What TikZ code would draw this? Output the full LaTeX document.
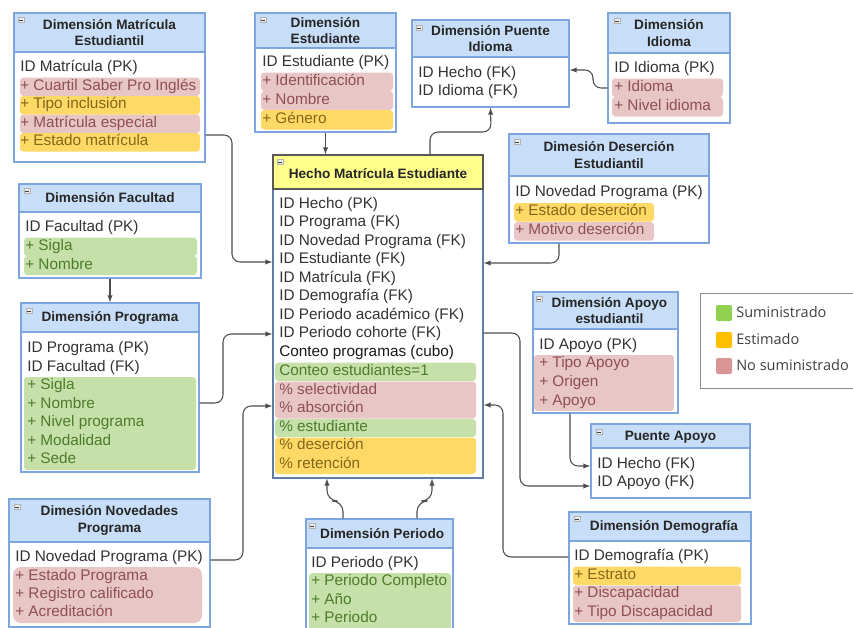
\documentclass[tikz,border=0pt]{standalone}
\usepackage{fontspec}
\setmainfont{Liberation Sans}
\newfontfamily\leyenda{Open Sans}
\usetikzlibrary{fit}

\definecolor{azulcab}{HTML}{C8DDF7}
\definecolor{azulbor}{HTML}{7DA6DF}
\definecolor{amarillo}{HTML}{FFFF8C}
\definecolor{verdeF}{HTML}{C6E0A9}
\definecolor{verdeT}{HTML}{4E7B2C}
\definecolor{verdeL}{HTML}{92D050}
\definecolor{rosaF}{HTML}{E8C6C6}
\definecolor{rosaT}{HTML}{8E5050}
\definecolor{rosaL}{HTML}{DA9694}
\definecolor{naranjaF}{HTML}{FFD966}
\definecolor{naranjaT}{HTML}{86661A}
\definecolor{naranjaL}{HTML}{FFC000}
\definecolor{texto}{HTML}{333333}
\definecolor{linea}{HTML}{4D4D4D}

\tikzset{
  caja/.style={draw=azulbor, line width=1.1pt, fill=white, inner sep=0pt},
  cab/.style={draw=azulbor, line width=1.1pt, fill=azulcab, inner sep=0pt},
  titulo/.style={font=\fontsize{10.2}{12.2}\selectfont\bfseries, align=center, text=black!85},
  fila/.style={anchor=west, inner sep=0pt, text height=8.2pt, text depth=2.4pt, font=\fontsize{11.5}{13}\selectfont, text=texto},
  verde/.style={fila, text=verdeT},
  rosa/.style={fila, text=rosaT},
  naranja/.style={fila, text=naranjaT},
  banda/.style={rounded corners=2.5pt},
  icono/.style={draw=gray!60, fill=gray!15, minimum width=4.6pt, minimum height=3.8pt, inner sep=0pt,
    path picture={\draw[black!75, line width=0.7pt] ([xshift=0.8pt]path picture bounding box.west) -- ([xshift=-0.8pt]path picture bounding box.east);}},
  con/.style={->, >=latex, draw=linea, line width=0.8pt, rounded corners=6pt},
  ley/.style={anchor=west, inner sep=0pt, font=\leyenda\fontsize{10.9}{13}\selectfont, text=black!75},
}

\begin{document}
\begin{tikzpicture}[x=0.75pt, y={(0pt,-0.75pt)}]
\useasboundingbox (0,0) rectangle (853,628);

% Dimension Matricula Estudiantil
\node[caja, fit={(14,13) (205,162)}] (matr) {};
\fill[rosaF, banda] (20,77.5) rectangle (200,96);
\fill[naranjaF, banda] (20,96) rectangle (200,114.5);
\fill[rosaF, banda] (20,114.5) rectangle (200,133);
\fill[naranjaF, banda] (20,133) rectangle (200,151.5);
\node[cab, fit={(14,13) (205,52)}] (matrC) {};
\node[icono] at (21,20) {};
\node[titulo] at (matrC.center) {Dimensión Matrícula\\Estudiantil};
\node[fila] at (20,68) {ID Matrícula (PK)};
\node[rosa] at (20,87) {+ Cuartil Saber Pro Inglés};
\node[naranja] at (20,105) {+ Tipo inclusión};
\node[rosa] at (20,124) {+ Matrícula especial};
\node[naranja] at (20,142) {+ Estado matrícula};

% Dimension Estudiante
\node[caja, fit={(255,13) (396,132)}] (estu) {};
\fill[rosaF, banda] (261,72.5) rectangle (393,91);
\fill[rosaF, banda] (261,91) rectangle (393,110);
\fill[naranjaF, banda] (261,110) rectangle (393,129.5);
\node[cab, fit={(255,13) (396,48)}] (estuC) {};
\node[icono] at (263,20) {};
\node[titulo] at (estuC.center) {Dimensión\\Estudiante};
\node[fila] at (262,63) {ID Estudiante (PK)};
\node[rosa] at (262,82) {+ Identificación};
\node[rosa] at (262,101) {+ Nombre};
\node[naranja] at (262,120) {+ Género};

% Dimension Puente Idioma
\node[caja, fit={(412,20) (569,107)}] (pidi) {};
\node[cab, fit={(412,20) (569,57)}] (pidiC) {};
\node[icono] at (419,28) {};
\node[titulo] at (pidiC.center) {Dimensión Puente\\Idioma};
\node[fila] at (418,74) {ID Hecho (FK)};
\node[fila] at (418,92) {ID Idioma (FK)};

% Dimension Idioma
\node[caja, fit={(608,13) (730,123)}] (idio) {};
\fill[rosaF, banda] (612,78.5) rectangle (723,97);
\fill[rosaF, banda] (612,97) rectangle (723,116.5);
\node[cab, fit={(608,13) (730,53)}] (idioC) {};
\node[icono] at (617,21) {};
\node[titulo] at (idioC.center) {Dimensión\\Idioma};
\node[fila] at (614,69) {ID Idioma (PK)};
\node[rosa] at (614,88) {+ Idioma};
\node[rosa] at (614,107) {+ Nivel idioma};

% Dimension Facultad
\node[caja, fit={(19,184) (201,278)}] (facu) {};
\fill[verdeF, banda] (24,237.5) rectangle (197,256);
\fill[verdeF, banda] (24,256) rectangle (197,275);
\node[cab, fit={(19,184) (201,212)}] (facuC) {};
\node[icono] at (27,191) {};
\node[titulo] at (facuC.center) {Dimensión Facultad};
\node[fila] at (25,228) {ID Facultad (PK)};
\node[verde] at (25,247) {+ Sigla};
\node[verde] at (25,266) {+ Nombre};

% Dimension Programa
\node[caja, fit={(21,303) (199,472)}] (prog) {};
\fill[verdeF, banda] (24,377) rectangle (196,470);
\node[cab, fit={(21,303) (199,332)}] (progC) {};
\node[icono] at (29,311) {};
\node[titulo] at (progC.center) {Dimensión Programa};
\node[fila] at (27,349) {ID Programa (PK)};
\node[fila] at (27,368) {ID Facultad (FK)};
\node[verde] at (27,386) {+ Sigla};
\node[verde] at (27,405) {+ Nombre};
\node[verde] at (27,423) {+ Nivel programa};
\node[verde] at (27,442) {+ Modalidad};
\node[verde] at (27,460) {+ Sede};

% Hecho Matricula Estudiante
\node[caja, draw=azulbor!75!black, fit={(273,155) (483,478)}] (hecho) {};
\fill[verdeF, banda] (275,362.5) rectangle (476,381);
\fill[rosaF, banda] (275,381.5) rectangle (476,418.5);
\fill[verdeF, banda] (275,419) rectangle (476,437);
\fill[naranjaF, banda] (275,437.5) rectangle (476,474);
\node[cab, draw=black!65, fill=amarillo, fit={(273,155) (483,189)}] (hechoC) {};
\node[icono] at (280,162) {};
\node[titulo] at ([yshift=-1.5pt]hechoC.center) {Hecho Matrícula Estudiante};
\node[fila] at (279,205) {ID Hecho (PK)};
\node[fila] at (279,223) {ID Programa (FK)};
\node[fila] at (279,242) {ID Novedad Programa (FK)};
\node[fila] at (279,260) {ID Estudiante (FK)};
\node[fila] at (279,279) {ID Matrícula (FK)};
\node[fila] at (279,297) {ID Demografía (FK)};
\node[fila] at (279,316) {ID Periodo académico (FK)};
\node[fila] at (279,334) {ID Periodo cohorte (FK)};
\node[fila, text=black!90] at (279,353) {Conteo programas (cubo)};
\node[verde] at (279,372) {Conteo estudiantes=1};
\node[rosa] at (279,391) {\% selectividad};
\node[rosa] at (279,409) {\% absorción};
\node[verde] at (279,428) {\% estudiante};
\node[naranja] at (279,446) {\% deserción};
\node[naranja] at (279,465) {\% retención};

% Dimesion Desercion Estudiantil
\node[caja, fit={(509,134) (709,243)}] (dese) {};
\fill[naranjaF, banda] (514,203) rectangle (654,221.5);
\fill[rosaF, banda] (514,222) rectangle (654,240.5);
\node[cab, fit={(509,134) (709,176)}] (deseC) {};
\node[icono] at (517,142) {};
\node[titulo] at (deseC.center) {Dimesión Deserción\\Estudiantil};
\node[fila] at (515,193) {ID Novedad Programa (PK)};
\node[naranja] at (515,212) {+ Estado deserción};
\node[rosa] at (515,231) {+ Motivo deserción};

% Dimension Apoyo estudiantil
\node[caja, fit={(533,292) (678,413)}] (apoy) {};
\fill[rosaF, banda] (534,355) rectangle (674,411);
\node[cab, fit={(533,292) (678,329)}] (apoyC) {};
\node[icono] at (539,299) {};
\node[titulo] at ([xshift=3pt]apoyC.center) {Dimensión Apoyo\\estudiantil};
\node[fila] at (539,346) {ID Apoyo (PK)};
\node[rosa] at (539,364) {+ Tipo Apoyo};
\node[rosa] at (539,383) {+ Origen};
\node[rosa] at (539,402) {+ Apoyo};

% Puente Apoyo
\node[caja, fit={(591,424) (750,498)}] (papo) {};
\node[cab, fit={(591,424) (750,448)}] (papoC) {};
\node[icono] at (599,432) {};
\node[titulo] at ([yshift=-1pt]papoC.center) {Puente Apoyo};
\node[fila] at (597,465) {ID Hecho (FK)};
\node[fila] at (597,483) {ID Apoyo (FK)};

% Dimension Demografia
\node[caja, fit={(569,512) (751,624)}] (demo) {};
\fill[naranjaF, banda] (573,566.5) rectangle (741,585);
\fill[rosaF, banda] (573,585.5) rectangle (741,622);
\node[cab, fit={(569,512) (751,541)}] (demoC) {};
\node[icono] at (577,519) {};
\node[titulo] at ([xshift=3pt]demoC.center) {Dimensión Demografía};
\node[fila] at (574,557) {ID Demografía (PK)};
\node[naranja] at (574,576) {+ Estrato};
\node[rosa] at (574,594) {+ Discapacidad};
\node[rosa] at (574,613) {+ Tipo Discapacidad};

% Dimesion Novedades Programa
\node[caja, fit={(9,499) (210,627)}] (nove) {};
\fill[rosaF, rounded corners=6pt] (13,567) rectangle (202,623);
\node[cab, fit={(9,499) (210,542)}] (noveC) {};
\node[icono] at (17,507) {};
\node[titulo] at (noveC.center) {Dimesión Novedades\\Programa};
\node[fila] at (15,558) {ID Novedad Programa (PK)};
\node[rosa] at (15,577) {+ Estado Programa};
\node[rosa] at (15,595) {+ Registro calificado};
\node[rosa] at (15,613) {+ Acreditación};

% Dimension Periodo
\node[caja, fit={(306,519) (453,636)}] (peri) {};
\fill[verdeF, banda] (309,573) rectangle (451,634);
\node[cab, fit={(306,519) (453,548)}] (periC) {};
\node[icono] at (312,526) {};
\node[titulo] at ([xshift=2pt]periC.center) {Dimensión Periodo};
\node[fila] at (311,564) {ID Periodo (PK)};
\node[verde] at (311,582) {+ Periodo Completo};
\node[verde] at (311,601) {+ Año};
\node[verde] at (311,619) {+ Periodo};

% leyenda
\node[draw=black!45, line width=0.6pt, inner sep=0pt, fit={(700,293) (890,388)}] (leye) {};
\fill[verdeL, rounded corners=1.5pt] (716,305) rectangle (732,321);
\fill[naranjaL, rounded corners=1.5pt] (716,332) rectangle (732,348);
\fill[rosaL, rounded corners=1.5pt] (716,358) rectangle (732,374);
\node[ley] (sumi) at (736,312) {Suministrado};
\node[ley] (esti) at (736,339) {Estimado};
\node[ley] (nosu) at (736,365) {No suministrado};

% conectores
\draw[con] (matr.east |- 0,135) -- (232,135) -- (232,262) -- (hecho.west |- 0,262);
\draw[con] (estu.south) -- (estu.south |- hecho.north);
\draw[con] (hecho.north -| 430,0) -- (430,132) -- (491,132) -- (pidi.south);
\draw[con] (idio.west |- 0,88) -- (593,88) -- (593,70) -- (pidi.east |- 0,70);
\draw[con] (facu.south) -- (facu.south |- prog.north);
\draw[con] (prog.east |- 0,403) -- (223,403) -- (223,334) -- (hecho.west |- 0,334);
\draw[con] (nove.east |- 0,560) -- (243,560) -- (243,406) -- (hecho.west |- 0,406);
\draw[con] (dese.south -| 559,0) -- (559,263) -- (hecho.east |- 0,263);
\draw[con] (hecho.east |- 0,333) -- (520,333) -- (520,486) -- (papo.west |- 0,486);
\draw[con] (apoy.south -| 570,0) -- (570,466) -- (papo.west |- 0,466);
\draw[con] (demo.west |- 0,557) -- (503,557) -- (503,405) -- (hecho.east |- 0,405);
\draw[con, rounded corners=8pt] (peri.north -| 343,0) -- (343,501) -- (327,501) -- (hecho.south -| 327,0);
\draw[con, rounded corners=8pt] (peri.north -| 417,0) -- (417,501) -- (432,501) -- (hecho.south -| 432,0);
\end{tikzpicture}
\end{document}
